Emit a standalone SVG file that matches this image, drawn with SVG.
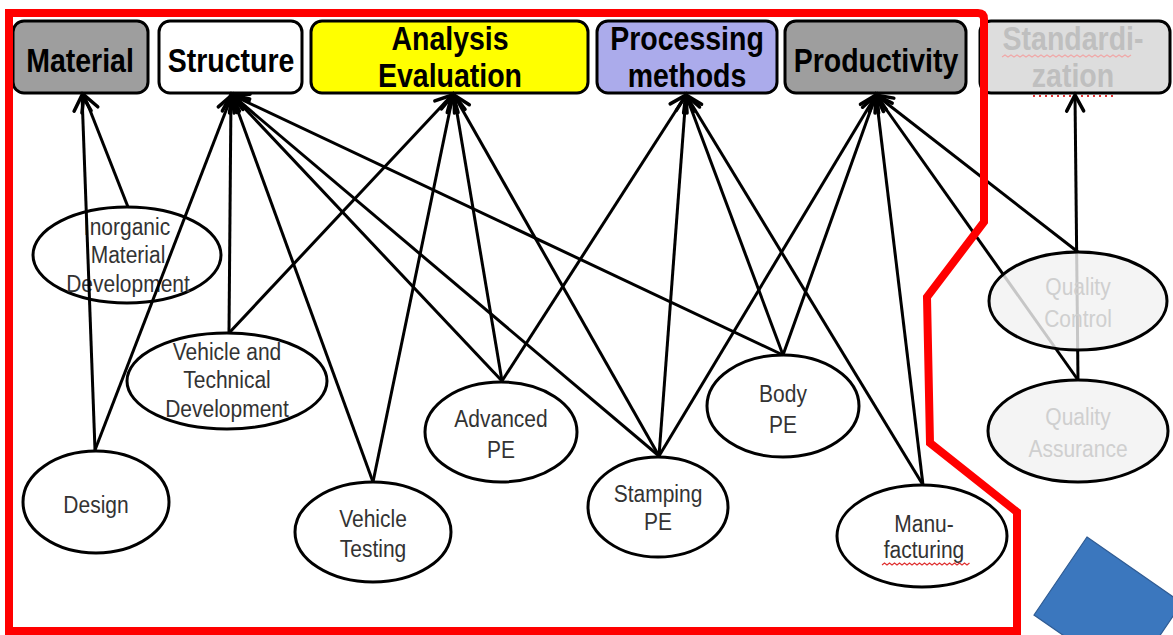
<svg xmlns="http://www.w3.org/2000/svg" width="1173" height="635" viewBox="0 0 1173 635">
  <defs>
    <marker id="arr" markerUnits="userSpaceOnUse" markerWidth="24" markerHeight="24" viewBox="-20 -12 24 24" refX="0" refY="0" orient="auto">
      <path d="M-16,-8.5 L0,0 L-16,8.5" fill="none" stroke="#000" stroke-width="3.5" stroke-linecap="round" stroke-linejoin="miter"/>
    </marker>
    <style>
      .box { stroke: #000; stroke-width: 3; }
      .bt { font-family: "Liberation Sans", Arial, sans-serif; font-weight: bold; font-size: 28.5px; fill: #000; text-anchor: middle; }
      .el { fill: #fff; stroke: #000; stroke-width: 3; }
      .elq { fill: #f2f2f2; fill-opacity: 0.82; stroke: #000; stroke-width: 3; }
      .t { font-family: "Liberation Sans", Arial, sans-serif; font-size: 21px; fill: #333; text-anchor: middle; }
      .tq { fill: #cfcfcf; }
      .conn path { fill: none; stroke: #000; stroke-width: 3; marker-end: url(#arr); }
      .squig { fill: none; stroke: #e03030; stroke-width: 1.2; }
    </style>
  </defs>

  <rect width="1173" height="635" fill="#fff"/>

  <!-- category boxes -->
  <g id="material">
    <rect class="box" x="13" y="21" width="135" height="72" rx="11" fill="#9e9e9e"/>
    <text class="bt" transform="matrix(1 0 0 1.17 80 72)">Material</text>
  </g>
  <g id="structure">
    <rect class="box" x="159" y="21" width="143" height="72" rx="11" fill="#fff"/>
    <text class="bt" transform="matrix(1 0 0 1.17 231 72)">Structure</text>
  </g>
  <g id="analysis">
    <rect class="box" x="311" y="21" width="277" height="72" rx="11" fill="#ffff00"/>
    <text class="bt" transform="matrix(1 0 0 1.17 450 50)">Analysis</text>
    <text class="bt" transform="matrix(1 0 0 1.17 450 87)">Evaluation</text>
  </g>
  <g id="processing">
    <rect class="box" x="597" y="21" width="180" height="72" rx="11" fill="#ababeb"/>
    <text class="bt" transform="matrix(1 0 0 1.17 687 50)">Processing</text>
    <text class="bt" transform="matrix(1 0 0 1.17 687 87)">methods</text>
  </g>
  <g id="productivity">
    <rect class="box" x="785" y="21" width="181" height="72" rx="11" fill="#9e9e9e"/>
    <text class="bt" transform="matrix(1 0 0 1.17 876 72)">Productivity</text>
  </g>
  <g id="standardization">
    <rect class="box" x="980" y="21" width="190" height="72" rx="11" fill="#dddddd"/>
    <text class="bt" style="fill:#bfbfbf" transform="matrix(1 0 0 1.17 1073 50)">Standardi-</text>
    <text class="bt" style="fill:#bfbfbf" transform="matrix(1 0 0 1.17 1073 87)">zation</text>
    <path class="squig" style="stroke:#f0a8a8" d="M1002,57 l3,-2 l3,2 l3,-2 l3,2 l3,-2 l3,2 l3,-2 l3,2 l3,-2 l3,2 l3,-2 l3,2 l3,-2 l3,2 l3,-2 l3,2 l3,-2 l3,2 l3,-2 l3,2 l3,-2 l3,2 l3,-2 l3,2 l3,-2 l3,2 l3,-2 l3,2 l3,-2 l3,2 l3,-2 l3,2 l3,-2 l3,2 l3,-2 l3,2 l3,-2 l3,2 l3,-2 l3,2 l3,-2 l3,2 l3,-2"/>
    <path d="M1033,96 H1117" fill="none" stroke="#e03030" stroke-width="2" stroke-dasharray="2 4"/>
  </g>

  <!-- activity nodes -->
  <g id="inorganic">
    <ellipse class="el" cx="127" cy="255" rx="94" ry="48"/>
    <text class="t" transform="matrix(1 0 0 1.15 127 235)">Inorganic</text>
    <text class="t" transform="matrix(1 0 0 1.15 128 263)">Material</text>
    <text class="t" transform="matrix(1 0 0 1.15 128 292)">Development</text>
  </g>
  <g id="vehicle-tech">
    <ellipse class="el" cx="227" cy="381" rx="100" ry="48"/>
    <text class="t" transform="matrix(1 0 0 1.15 227 360)">Vehicle and</text>
    <text class="t" transform="matrix(1 0 0 1.15 227 388)">Technical</text>
    <text class="t" transform="matrix(1 0 0 1.15 227 417)">Development</text>
  </g>
  <g id="design">
    <ellipse class="el" cx="96" cy="502" rx="73" ry="51"/>
    <text class="t" transform="matrix(1 0 0 1.15 96 513)">Design</text>
  </g>
  <g id="vehicle-testing">
    <ellipse class="el" cx="373" cy="532" rx="78" ry="50"/>
    <text class="t" transform="matrix(1 0 0 1.15 373 527)">Vehicle</text>
    <text class="t" transform="matrix(1 0 0 1.15 373 557)">Testing</text>
  </g>
  <g id="advanced-pe">
    <ellipse class="el" cx="501" cy="432" rx="76" ry="50"/>
    <text class="t" transform="matrix(1 0 0 1.15 501 427)">Advanced</text>
    <text class="t" transform="matrix(1 0 0 1.15 501 458)">PE</text>
  </g>
  <g id="stamping-pe">
    <ellipse class="el" cx="658" cy="507" rx="70" ry="50"/>
    <text class="t" transform="matrix(1 0 0 1.15 658 502)">Stamping</text>
    <text class="t" transform="matrix(1 0 0 1.15 658 530)">PE</text>
  </g>
  <g id="body-pe">
    <ellipse class="el" cx="783" cy="406" rx="76" ry="51"/>
    <text class="t" transform="matrix(1 0 0 1.15 783 402)">Body</text>
    <text class="t" transform="matrix(1 0 0 1.15 783 433)">PE</text>
  </g>
  <g id="manufacturing">
    <ellipse class="el" cx="922" cy="536" rx="85" ry="51"/>
    <text class="t" transform="matrix(1 0 0 1.15 924 532)">Manu-</text>
    <text class="t" transform="matrix(1 0 0 1.15 924 558)">facturing</text>
    <path class="squig" d="M882,565 l2.5,-2 l2.5,2 l2.5,-2 l2.5,2 l2.5,-2 l2.5,2 l2.5,-2 l2.5,2 l2.5,-2 l2.5,2 l2.5,-2 l2.5,2 l2.5,-2 l2.5,2 l2.5,-2 l2.5,2 l2.5,-2 l2.5,2 l2.5,-2 l2.5,2 l2.5,-2 l2.5,2 l2.5,-2 l2.5,2 l2.5,-2 l2.5,2 l2.5,-2 l2.5,2 l2.5,-2 l2.5,2 l2.5,-2 l2.5,2 l2.5,-2 l2.5,2 l2.5,-2"/>
  </g>

  <!-- connectors -->
  <g id="connectors" class="conn">
    <path d="M95,450 L82,95"/>
    <path d="M128,207 L84,95"/>
    <path d="M95,450 L232,95"/>
    <path d="M229,333 L231,95"/>
    <path d="M229,333 L452,95"/>
    <path d="M373,482 L232,95"/>
    <path d="M373,482 L453,95"/>
    <path d="M502,381 L232,95"/>
    <path d="M502,381 L454,95"/>
    <path d="M502,381 L686,95"/>
    <path d="M659,456 L232,95"/>
    <path d="M659,456 L454,95"/>
    <path d="M659,456 L686,95"/>
    <path d="M659,456 L876,95"/>
    <path d="M783,355 L232,95"/>
    <path d="M783,355 L686,95"/>
    <path d="M783,355 L876,95"/>
    <path d="M923,485 L686,95"/>
    <path d="M923,485 L876,95"/>
    <path d="M1078,252 L876,95"/>
    <path d="M1078,380 L876,95"/>
    <path d="M1078,380 L1075,95"/>
  </g>

  <!-- quality nodes, drawn over the lines that pass behind them -->
  <g id="quality-control">
    <ellipse class="elq" cx="1078" cy="301" rx="89" ry="49"/>
    <text class="t tq" transform="matrix(1 0 0 1.15 1078 295)">Quality</text>
    <text class="t tq" transform="matrix(1 0 0 1.15 1078 327)">Control</text>
  </g>
  <g id="quality-assurance">
    <ellipse class="elq" cx="1078" cy="431" rx="90" ry="51"/>
    <text class="t tq" transform="matrix(1 0 0 1.15 1078 425)">Quality</text>
    <text class="t tq" transform="matrix(1 0 0 1.15 1078 457)">Assurance</text>
  </g>

  <!-- red boundary -->
  <path d="M9,631 L9,13 L978,13 Q984,13 984,19 L984,222 L927,297 L930,443 L1017,512 L1017,631 Z" fill="none" stroke="#ff0000" stroke-width="8" stroke-linejoin="miter"/>

  <!-- blue shape at lower right -->
  <polygon points="1087,537 1182,603 1129,681 1034,615" fill="#3b77be" stroke="#2f5b93" stroke-width="1.2"/>
</svg>
